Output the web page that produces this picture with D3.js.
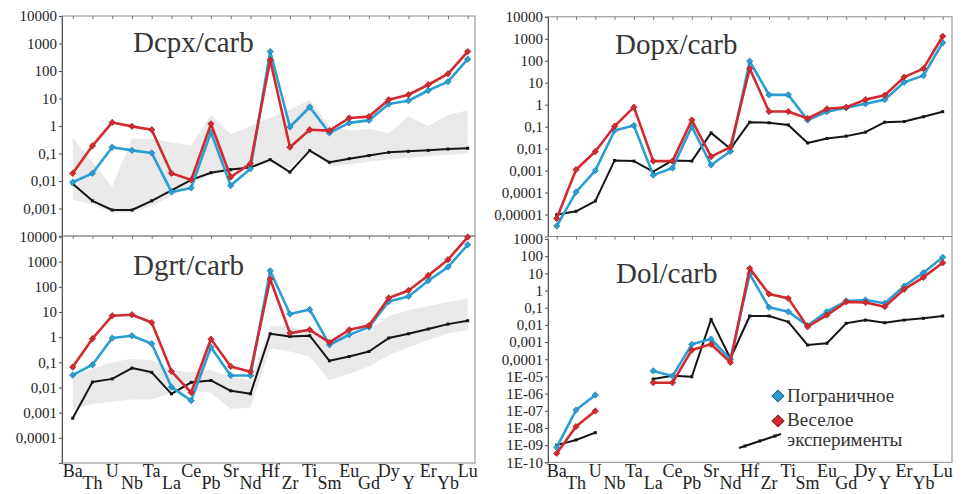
<!DOCTYPE html>
<html>
<head>
<meta charset="utf-8">
<script src="https://cdn.jsdelivr.net/npm/d3@7/dist/d3.min.js"></script>
<style>
  html, body { margin: 0; padding: 0; background: #fff; }
  svg { display: block; }
</style>
</head>
<body>
<svg id="chart" width="967" height="494"></svg>
<script>
// Element order along the x axis
const elements = ["Ba","Th","U","Nb","Ta","La","Ce","Pb","Sr","Nd","Hf","Zr","Ti","Sm","Eu","Gd","Dy","Y","Er","Yb","Lu"];

// Dcpx/carb
const cpxBorder = [0.009,0.019,0.17,0.13,0.105,0.004,0.0056,0.59,0.0068,0.028,510,0.92,4.9,0.56,1.3,1.6,6.3,8.3,19.5,41,270];
const cpxVesel  = [0.019,0.19,1.35,0.97,0.73,0.019,0.011,1.2,0.014,0.043,250,0.17,0.73,0.68,1.95,2.2,9,13.7,31.6,79,510];
const cpxExp    = [0.0079,0.0019,0.00088,0.00088,0.0019,0.0046,0.011,0.02,0.026,0.031,0.06,0.021,0.127,0.048,0.065,0.084,0.11,0.12,0.13,0.145,0.155];
const cpxBandLo = [0.0021,0.0014,0.0007,0.0007,0.0012,0.0028,0.0075,0.018,0.022,0.03,0.046,0.03,0.14,0.035,0.04,0.05,0.06,0.07,0.08,0.09,0.1];
const cpxBandHi = [0.37,0.05,0.006,0.35,0.35,0.25,0.2,2.5,0.5,1,2,4,9,1,0.7,0.8,0.55,2.2,1,2.5,3.7];

// Dgrt/carb
const grtBorder = [0.031,0.08,0.92,1.14,0.55,0.0104,0.003,0.4,0.03,0.03,435,8.3,12.6,0.5,1.25,2.5,26,41.5,174,610,4700];
const grtVesel  = [0.065,0.87,7.1,7.8,3.8,0.044,0.0063,0.84,0.069,0.042,204,1.45,1.96,0.62,1.96,2.9,36,72,283,1200,9500];
const grtExp    = [0.0006,0.0165,0.022,0.059,0.04,0.0056,0.016,0.019,0.0074,0.0056,1.36,1.07,1.14,0.115,0.17,0.27,0.92,1.36,2.1,3.3,4.5];
const grtBandLo = [0.0013,0.0022,0.0027,0.0033,0.0033,0.006,0.008,0.006,0.0014,0.0016,0.37,0.27,0.17,0.02,0.034,0.07,0.19,0.4,0.75,1.4,1.9];
const grtBandHi = [0.027,0.055,0.1,0.14,0.12,0.05,0.04,0.05,0.027,0.02,2.7,2.7,1.5,0.55,1,1.9,7,12,17,25,33];

// Dopx/carb
const opxBorder = [3e-6,1.05e-4,0.001,0.067,0.113,0.00062,0.0013,0.1,0.0018,0.0076,95,2.8,2.8,0.2,0.48,0.72,1.1,1.7,10.5,21,660];
const opxVesel  = [6.6e-6,0.0011,0.0074,0.105,0.77,0.0027,0.0027,0.2,0.0043,0.0117,44,0.49,0.49,0.235,0.65,0.77,1.7,2.7,18,44,1300];
const opxExp    = [9.8e-6,1.4e-5,4.1e-5,0.0029,0.0027,0.00089,0.0029,0.0027,0.052,0.0098,0.16,0.15,0.12,0.018,0.029,0.037,0.056,0.16,0.17,0.28,0.48];

// Dol/carb (no data for Nb and Ta)
const olBorder = [7.4e-10,1.1e-7,8.3e-7,null,null,2.1e-5,1.05e-5,7.4e-4,1.5e-3,1e-4,9.1,0.105,0.059,0.009,0.059,0.245,0.28,0.18,1.8,11,86];
const olVesel  = [3.3e-10,1.2e-8,9.7e-8,null,null,4.3e-6,4.3e-6,3.4e-4,7.4e-4,6.6e-5,19.5,0.63,0.35,0.0078,0.037,0.22,0.2,0.114,1.17,5.9,41];
const olExp    = [1e-9,2e-9,5.3e-9,null,null,7e-6,1.1e-5,9.6e-6,0.021,1.1e-4,0.033,0.033,0.015,6.7e-4,8.5e-4,0.0123,0.019,0.0134,0.019,0.024,0.033];

// Axis tick values and their printed labels
const cpxTicks = [1e4,1e3,1e2,10,1,0.1,0.01,0.001];
const cpxTickLabels = ["10000","1000","100","10","1","0,1","0,01","0,001"];
const grtTicks = [1e4,1e3,1e2,10,1,0.1,0.01,0.001,0.0001];
const grtTickLabels = ["10000","1000","100","10","1","0,1","0,01","0,001","0,0001"];
const opxTicks = [1e4,1e3,1e2,10,1,0.1,0.01,0.001,1e-4,1e-5];
const opxTickLabels = ["10000","1000","100","10","1","0,1","0,01","0,001","0,0001","0,00001"];
const olTicks = [1e3,1e2,10,1,0.1,0.01,0.001,1e-4,1e-5,1e-6,1e-7,1e-8,1e-9,1e-10];
const olTickLabels = ["1000","100","10","1","0,1","0,01","0,001","0,0001","1E-05","1E-06","1E-07","1E-08","1E-09","1E-10"];

// Legend entries
const legendNames = ["Пограничное","Веселое","эксперименты"];

const COLOR_BORDER = "#2b9fd3";
const COLOR_VESEL = "#d22a30";
const COLOR_EXP = "#151515";
const SERIF = "'Liberation Serif', 'DejaVu Serif', 'Times New Roman', serif";

const svg = d3.select("#chart").attr("font-family", SERIF);

// small rotated-square marker
const diamond = (size) => d3.symbol(d3.symbolSquare, size);

const panels = [
  { title: "Dcpx/carb", left: 62, right: 475, top: 16, bottom: 236, xr: [72.7, 467.7],
    dom: [1e-4, 1e4], yr: [236, 16], ticks: cpxTicks, tickLabels: cpxTickLabels,
    border: cpxBorder, vesel: cpxVesel, exp: cpxExp, lo: cpxBandLo, hi: cpxBandHi,
    tx: 133, ty: 52, xlabels: false },
  { title: "Dgrt/carb", left: 62, right: 475, top: 236, bottom: 463, xr: [72.7, 467.7],
    dom: [1e-5, 1e4], yr: [463, 236.5], ticks: grtTicks, tickLabels: grtTickLabels,
    border: grtBorder, vesel: grtVesel, exp: grtExp, lo: grtBandLo, hi: grtBandHi,
    tx: 133, ty: 275, xlabels: true },
  { title: "Dopx/carb", left: 548, right: 952, top: 16.8, bottom: 236.5, xr: [556.7, 942.7],
    dom: [1e-6, 1e4], yr: [236.5, 16.8], ticks: opxTicks, tickLabels: opxTickLabels,
    border: opxBorder, vesel: opxVesel, exp: opxExp,
    tx: 615, ty: 54, xlabels: false },
  { title: "Dol/carb", left: 548, right: 952, top: 236.5, bottom: 462.3, xr: [556.7, 942.7],
    dom: [1e-10, 1e3], yr: [462.3, 239], ticks: olTicks, tickLabels: olTickLabels,
    border: olBorder, vesel: olVesel, exp: olExp,
    tx: 616, ty: 283, xlabels: true }
];

panels.forEach(p => {
  const x = d3.scalePoint().domain(elements).range(p.xr);
  const y = d3.scaleLog().domain(p.dom).range(p.yr);
  const g = svg.append("g");

  // shaded range of published values
  if (p.lo) {
    const band = elements.map((e, i) => ({ e, lo: p.lo[i], hi: p.hi[i] }));
    g.append("path")
      .datum(band)
      .attr("fill", "#e9e9e9")
      .attr("d", d3.area().x(d => x(d.e)).y0(d => y(d.lo)).y1(d => y(d.hi)));
  }

  // frame
  g.append("rect")
    .attr("x", p.left).attr("y", p.top)
    .attr("width", p.right - p.left).attr("height", p.bottom - p.top)
    .attr("fill", "none").attr("stroke", "#8a8a8a").attr("stroke-width", 1);

  // y axis
  const yAxis = d3.axisLeft(y)
    .tickValues(p.ticks)
    .tickSize(3)
    .tickPadding(2)
    .tickFormat((d, i) => p.tickLabels[i]);
  const ya = g.append("g").attr("transform", `translate(${p.left},0)`).call(yAxis)
    .attr("font-family", SERIF).attr("font-size", 15);
  ya.select(".domain").attr("stroke", "#555");
  ya.selectAll(".tick line").attr("stroke", "#555");
  ya.selectAll(".tick text").attr("fill", "#222");

  // category ticks along the upper edge
  const xAxis = d3.axisBottom(x).tickSize(3).tickFormat("");
  const xa = g.append("g").attr("transform", `translate(0,${p.top})`).call(xAxis);
  xa.select(".domain").remove();
  xa.selectAll(".tick line").attr("stroke", "#777");

  // element labels in two staggered rows
  if (p.xlabels) {
    g.selectAll("text.el")
      .data(elements)
      .join("text")
      .attr("class", "el")
      .attr("x", d => x(d))
      .attr("y", (d, i) => i % 2 === 0 ? 477 : 489)
      .attr("text-anchor", "middle")
      .attr("fill", "#222")
      .attr("font-family", SERIF)
      .attr("font-size", 18)
      .text(d => d);
  }

  const seriesDefs = [
    { vals: p.exp, color: COLOR_EXP, width: 2, marker: "square" },
    { vals: p.border, color: COLOR_BORDER, width: 2.6, marker: "diamond" },
    { vals: p.vesel, color: COLOR_VESEL, width: 2.6, marker: "diamond" }
  ];

  // experiments first, then the two deposits on top
  seriesDefs.forEach(s => {
    const pts = elements.map((e, i) => ({ e, v: s.vals[i] }));
    const line = d3.line()
      .defined(d => d.v != null)
      .x(d => x(d.e))
      .y(d => y(d.v));
    g.append("path")
      .datum(pts)
      .attr("fill", "none")
      .attr("stroke", s.color)
      .attr("stroke-width", s.width)
      .attr("stroke-linejoin", "round")
      .attr("d", line);
    const valid = pts.filter(d => d.v != null);
    if (s.marker === "diamond") {
      g.selectAll(null)
        .data(valid)
        .join("path")
        .attr("transform", d => `translate(${x(d.e)},${y(d.v)}) rotate(45)`)
        .attr("d", diamond(20))
        .attr("fill", s.color)
        .attr("stroke", d3.color(s.color).darker(0.7))
        .attr("stroke-width", 0.7);
    } else {
      g.selectAll(null)
        .data(valid)
        .join("rect")
        .attr("x", d => x(d.e) - 1.5)
        .attr("y", d => y(d.v) - 1.5)
        .attr("width", 3).attr("height", 3)
        .attr("fill", s.color);
    }
  });

  // panel title
  g.append("text")
    .attr("x", p.tx).attr("y", p.ty)
    .attr("fill", "#363636")
    .attr("font-family", SERIF)
    .attr("font-size", 29)
    .text(p.title);
});

// legend (inside the Dol/carb panel)
const lg = svg.append("g");
lg.append("path")
  .attr("transform", "translate(778,396) rotate(45)")
  .attr("d", diamond(70))
  .attr("fill", COLOR_BORDER).attr("stroke", "#1d5f7d").attr("stroke-width", 1);
lg.append("path")
  .attr("transform", "translate(778,421) rotate(45)")
  .attr("d", diamond(70))
  .attr("fill", COLOR_VESEL).attr("stroke", "#7a1a1c").attr("stroke-width", 1);
lg.append("line")
  .attr("x1", 739).attr("y1", 448).attr("x2", 781).attr("y2", 434)
  .attr("stroke", COLOR_EXP).attr("stroke-width", 2);
[[745, 446], [760, 441], [775, 436]].forEach(([cx, cy]) => {
  lg.append("rect").attr("x", cx - 1.5).attr("y", cy - 1.5).attr("width", 3).attr("height", 3).attr("fill", COLOR_EXP);
});
lg.selectAll("text.lg")
  .data(legendNames)
  .join("text")
  .attr("class", "lg")
  .attr("x", 787)
  .attr("y", (d, i) => [402, 426, 446][i])
  .attr("fill", "#333")
  .attr("font-family", SERIF)
  .attr("font-size", 19)
  .text(d => d);
</script>
</body>
</html>
